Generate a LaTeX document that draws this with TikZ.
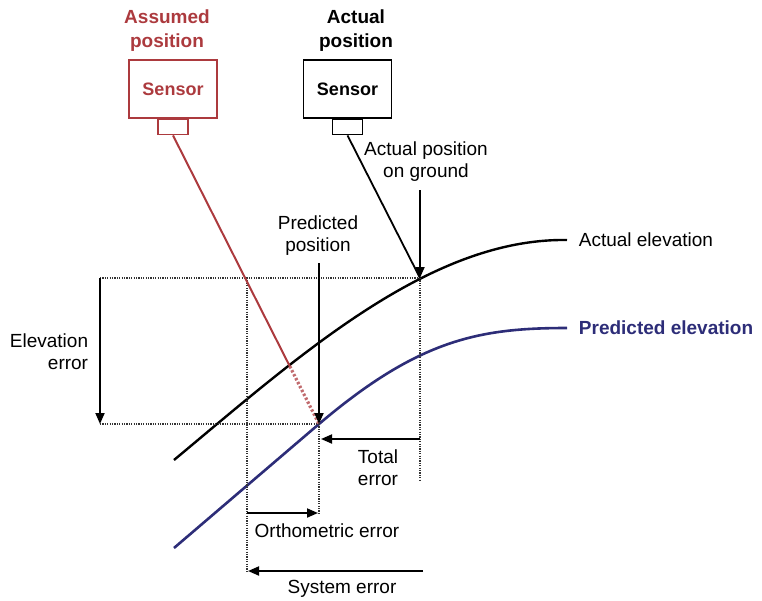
\documentclass[tikz,border=0pt]{standalone}
\usepackage{fontspec}
\setmainfont{Liberation Sans}
\usetikzlibrary{arrows.meta,calc}
\definecolor{assumedred}{RGB}{172,58,62}
\definecolor{predblue}{RGB}{45,45,120}
\begin{document}
\begin{tikzpicture}[x=0.5pt, y=-0.5pt, % 1像素 = 0.5pt, y轴向下
                every node/.style={font=\fontsize{9.5}{11}\selectfont}, % 统一字体
                sensorbox/.style={draw, line width=0.8pt, minimum width=44pt, minimum height=29pt,
                                  inner sep=0pt, font=\fontsize{9}{11}\selectfont\bfseries},
                sensortab/.style={draw, line width=0.8pt, minimum width=15pt, minimum height=7.5pt, inner sep=0pt},
                toplabel/.style={align=center, font=\fontsize{9.5}{12}\selectfont\bfseries},
                guide/.style={line width=0.9pt, black!80, dash pattern=on 0.6pt off 0.6pt},
                errarrow/.style={-{Triangle[length=5.5pt,width=4.5pt]}, line width=0.9pt}
            ]
            \useasboundingbox (0,0) rectangle (762,601);

            % 两个传感器 (假定位置 / 实际位置)
            \node[sensorbox, assumedred] (assumed) at (173,89) {Sensor};
            \node[sensortab, assumedred, anchor=north] (assumedtab) at (assumed.south) {};
            \node[sensorbox] (actual) at (347.5,89) {Sensor};
            \node[sensortab, anchor=north] (actualtab) at (actual.south) {};

            \node[toplabel, assumedred] (assumedlbl) at (167,31) {Assumed\\position};
            \node[toplabel] (actuallbl) at (356,31) {Actual\\position};

            % 关键点
            \coordinate (ground) at (420,278);   % 地面实际位置
            \coordinate (pred) at (319,424);     % 预测位置
            \coordinate (elev_top) at (100,278);
            \coordinate (elev_bot) at (100,424);
            \coordinate (red_mid) at ($(assumedtab.south)!0.8!(pred)$); % 红线由实线变为点线处

            % 高程曲线
            \draw[line width=1.2pt] (174,460) .. controls (300,355) and (430,238) .. (567,240)
                node[right, xshift=2pt] (actelev) {Actual elevation};
            \draw[predblue, line width=1.3pt] (174,548) -- (pred) .. controls (419,339) and (480,328) .. (567,328)
                node[right, xshift=2pt, font=\fontsize{9.5}{11}\selectfont\bfseries] (predelev) {Predicted elevation};

            % 辅助点线
            \draw[guide] (elev_top) -- (ground);
            \draw[guide] (elev_bot) -- (pred);
            \draw[guide] (247,278) -- (247,571);
            \draw[guide] (ground) -- (420,480);
            \draw[guide] (pred) -- (319,513);

            % 视线
            \draw[assumedred, line width=1pt] (assumedtab.south) -- (red_mid);
            \draw[assumedred!75, line width=1.6pt, dash pattern=on 1.2pt off 1pt] (red_mid) -- (pred);
            \draw[line width=0.9pt] (actualtab.south) -- (ground);

            % 误差箭头
            \coordinate (gnd_lbl) at (420,190);
            \coordinate (pred_lbl) at (319,263);
            \coordinate (total_R) at (420,439);
            \coordinate (total_L) at (321,439);
            \coordinate (ortho_L) at (247,513);
            \coordinate (ortho_R) at (318,513);
            \coordinate (sys_R) at (423,571);
            \coordinate (sys_L) at (248,571);

            \draw[errarrow] (gnd_lbl) -- (ground);
            \draw[errarrow] (pred_lbl) -- (pred);
            \draw[errarrow] (elev_top) -- (elev_bot);
            \draw[errarrow] (total_R) -- (total_L);
            \draw[errarrow] (ortho_L) -- (ortho_R);
            \draw[errarrow] (sys_R) -- (sys_L);

            % 文字标注
            \node[align=center] (gndtxt) at (426,162) {Actual position\\on ground};
            \node[align=center] (predtxt) at (318,236) {Predicted\\position};
            \node[align=right] (elevtxt) at (49,352) {Elevation\\error};
            \node[align=center] (totaltxt) at (378,468) {Total\\error};
            \node (orthotxt) at (327,531) {Orthometric error};
            \node (systxt) at (342,589) {System error};

        \end{tikzpicture}
\end{document}
